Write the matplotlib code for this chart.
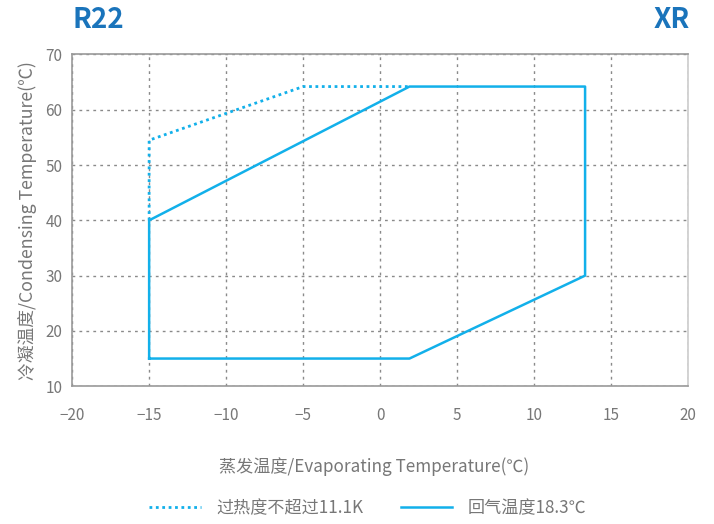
import matplotlib.pyplot as plt

plt.rcParams['font.family'] = ['Noto Sans CJK SC', 'DejaVu Sans']

# Données
evap_solid = [-15, 1.9, 13.3, 13.3, 1.9, -15, -15]
cond_solid = [15, 15, 30, 64.2, 64.2, 40, 15]
evap_dot = [-15, -15, -5, 1.9]
cond_dot = [40, 54.5, 64.2, 64.2]

label_dot = "过热度不超过11.1K"
label_solid = "回气温度18.3℃"
xticks = [-20, -15, -10, -5, 0, 5, 10, 15, 20]
yticks = [10, 20, 30, 40, 50, 60, 70]

line_col = '#12b0ea'
text_col = '#777777'
grid_col = '#8a8a8a'

fig = plt.figure(figsize=(7.14, 5.24), dpi=100)
ax = fig.add_axes([0.101, 0.263, 0.863, 0.633])

ax.plot(evap_dot, cond_dot, color=line_col, lw=2, linestyle=(0, (1, 1.3)), label=label_dot)
ax.plot(evap_solid, cond_solid, color=line_col, lw=1.8, label=label_solid)

ax.set_xlim(-20, 20)
ax.set_ylim(10, 70)
ax.set_xticks(xticks)
ax.set_yticks(yticks)
ax.set_xticklabels(['\u221220', '\u221215', '\u221210', '\u22125', '0', '5', '10', '15', '20'])
ax.tick_params(length=0, labelsize=11, labelcolor=text_col)
ax.tick_params(axis='x', pad=15)
ax.tick_params(axis='y', pad=7)
ax.grid(True, color=grid_col, linestyle=(0, (2, 3)), lw=1)
for s in ax.spines.values():
    s.set_color('#999999')
    s.set_linewidth(1.2)
ax.spines['right'].set_color('#cccccc')

ax.set_xlabel("蒸发温度/Evaporating Temperature(℃)", fontsize=12.3, color=text_col)
ax.xaxis.set_label_coords(0.49, -0.215)
ax.set_ylabel("冷凝温度/Condensing Temperature(℃)", fontsize=12.8, color=text_col, labelpad=6)

fig.text(0.101, 0.962, "R22", fontsize=20, fontweight='bold', color='#1a74bb', va='center', ha='left')
fig.text(0.966, 0.962, "XR", fontsize=20, fontweight='bold', color='#1a74bb', va='center', ha='right')

fig.legend(loc='center', bbox_to_anchor=(0.515, 0.031), ncol=2, frameon=False,
           fontsize=12.3, labelcolor=text_col, handlelength=3.0, columnspacing=2.2, handletextpad=0.9)

plt.savefig('out.png', dpi=100)
